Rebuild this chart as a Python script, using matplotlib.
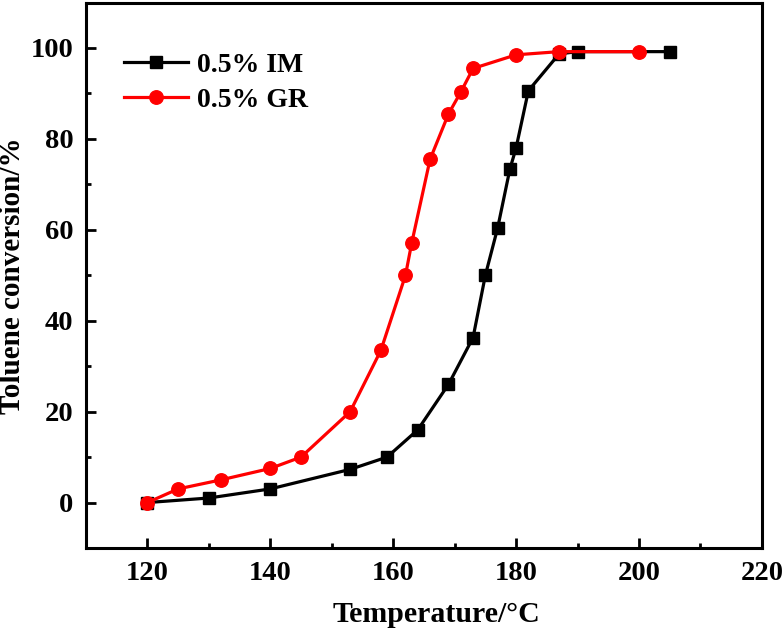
import matplotlib
matplotlib.use("Agg")
import matplotlib.pyplot as plt
from matplotlib.ticker import MultipleLocator

im_x = [120, 130, 140, 153, 159, 164, 169, 173, 175, 177, 179, 180, 182, 187, 190, 205]
im_y = [0, 1, 3, 7.3, 10, 16, 26, 36.3, 50, 60.4, 73.4, 78, 90.6, 98.7, 99.2, 99.2]
gr_x = [120, 125, 132, 140, 145, 153, 158, 162, 163, 166, 169, 171, 173, 180, 187, 200]
gr_y = [0, 3, 5, 7.5, 10, 20, 33.5, 50, 57, 75.5, 85.5, 90.3, 95.5, 98.5, 99.2, 99.2]

plt.rcParams['font.family'] = ['Liberation Serif', 'DejaVu Serif']
plt.rcParams['font.weight'] = 'bold'

fig = plt.figure(figsize=(7.83, 6.35), dpi=100)
ax = fig.add_axes([0.1098, 0.137, 0.8632, 0.859])

ax.plot(im_x, im_y, color='black', marker='s', markersize=8.5, linewidth=2.3, label='0.5% IM')
ax.plot(gr_x, gr_y, color='#ff0000', marker='o', markersize=9.7, linewidth=2.3, label='0.5% GR')

ax.set_xlim(110, 220)
ax.set_ylim(-10, 110)
ax.xaxis.set_major_locator(MultipleLocator(20))
ax.xaxis.set_minor_locator(MultipleLocator(10))
ax.yaxis.set_major_locator(MultipleLocator(20))
ax.yaxis.set_minor_locator(MultipleLocator(10))
ax.tick_params(which='major', direction='in', length=7, width=2, labelsize=20.5, pad=9)
ax.tick_params(which='minor', direction='in', length=3.5, width=2)
ax.tick_params(top=False, right=False)
for lab in ax.get_xticklabels() + ax.get_yticklabels():
    lab.set_fontweight('bold')
for s in ax.spines.values():
    s.set_linewidth(2.2)

ax.set_xlabel('Temperature/\u00b0C', fontsize=21.5, fontweight='bold')
ax.xaxis.set_label_coords(0.518, -0.097)
ax.set_ylabel('Toluene conversion/%', fontsize=21, fontweight='bold')
ax.yaxis.set_label_coords(-0.088, 0.5)

leg = ax.legend(loc='upper left', bbox_to_anchor=(0.02, 0.955), frameon=False,
                prop={'family': 'Liberation Serif', 'weight': 'bold', 'size': 20},
                handlelength=2.3, handletextpad=0.3, labelspacing=0.35)

fig.savefig('out.png', dpi=100)
